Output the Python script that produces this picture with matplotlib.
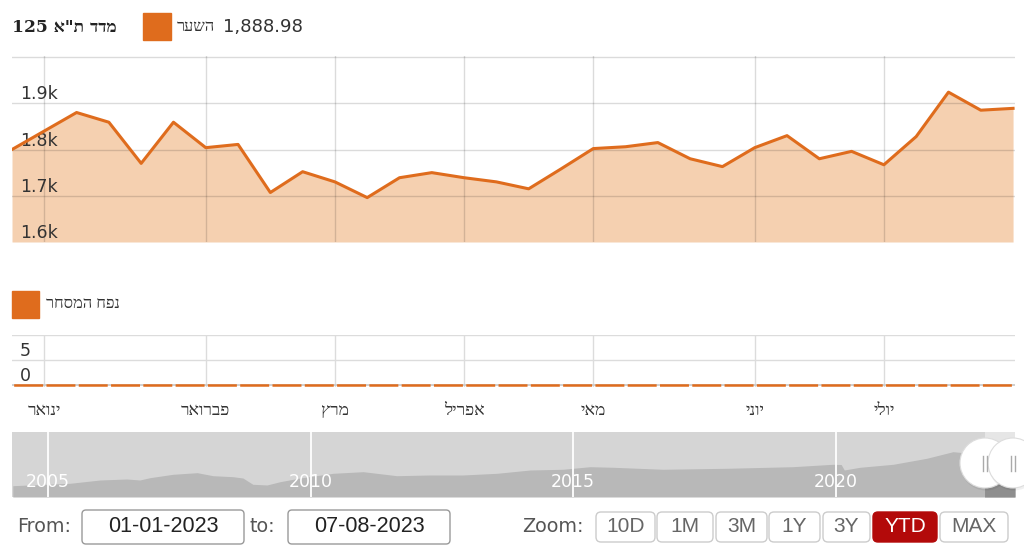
import matplotlib
matplotlib.use("Agg")
import matplotlib.pyplot as plt
import numpy as np
from matplotlib.patches import FancyBboxPatch, Rectangle, Circle

plt.rcParams['lines.scale_dashes'] = False

# ---- data ----
# TA-125 weekly closes, YTD 2023
price = [1800, 1840, 1880, 1859, 1770, 1859, 1804, 1811, 1707, 1752,
         1730, 1696, 1739, 1750, 1739, 1730, 1715, 1758, 1802, 1806,
         1815, 1780, 1763, 1804, 1830, 1780, 1796, 1767, 1828, 1924,
         1885, 1889]
volume = [0, 0, 0, 0, 0, 0, 0, 0, 0, 0, 0, 0, 0, 0, 0, 0,
          0, 0, 0, 0, 0, 0, 0, 0, 0, 0, 0, 0, 0, 0, 0, 0]
month_pos = [1, 6, 10, 14, 18, 23, 27]
month_names = ["ינואר", "פברואר", "מרץ", "אפריל", "מאי", "יוני", "יולי"]
price_ticks = [1600, 1700, 1800, 1900]
price_tick_labels = ["1.6k", "1.7k", "1.8k", "1.9k"]
vol_ticks = [0, 5]

# navigator (full history)
nav_years = [2004.33, 2005.42, 2005.99, 2006.50, 2006.75, 2006.94, 2007.38, 2007.84,
             2008.14, 2008.52, 2008.71, 2008.90, 2009.17, 2009.42, 2009.80, 2010.43,
             2011.00, 2011.64, 2012.27, 2012.90, 2013.55, 2014.18, 2014.80, 2015.32,
             2015.76, 2016.71, 2017.93, 2019.18, 2019.94, 2020.10, 2020.16, 2020.46,
             2021.09, 2021.73, 2022.23, 2022.55, 2022.83, 2023.41]
nav_level = [572, 666, 795, 834, 795, 885, 1018, 1081,
             963, 924, 873, 627, 600, 729, 873, 1057,
             1120, 963, 991, 991, 1057, 1186, 1214, 1315,
             1292, 1214, 1253, 1315, 1409, 1400, 1186, 1292,
             1409, 1644, 1902, 1839, 1870, 1902]
nav_year_ticks = [2005, 2010, 2015, 2020]
sel_start = 2022.83

index_name = 'מדד ת"א 125'
price_label = "השער"
last_close = "1,888.98"
volume_label = "נפח המסחר"
date_from = "01-01-2023"
date_to = "07-08-2023"
zoom_buttons = ["10D", "1M", "3M", "1Y", "3Y", "YTD", "MAX"]
active_button = "YTD"

ORANGE = "#df6c1d"
FILL = "#f5d0b0"
HE_SERIF = ["Liberation Serif", "DejaVu Serif"]


def vis(s):
    # matplotlib has no bidi: hand it the Hebrew in visual order
    return s[::-1]


W, H = 1024, 548
fig = plt.figure(figsize=(W / 100, H / 100), dpi=100)


def px_axes(x0, y0, x1, y1, **kw):
    return fig.add_axes([x0 / W, 1 - y1 / H, (x1 - x0) / W, (y1 - y0) / H], **kw)


def clean(ax):
    for s in ax.spines.values():
        s.set_visible(False)
    ax.tick_params(length=0, labelbottom=False, labelleft=False)


x = np.arange(len(price))
xmax = len(price) - 1 + 0.06

# ---- price panel ----
ax = px_axes(12, 56, 1015, 242)
ax.fill_between(x, price, 1600, color=FILL, lw=0, zorder=1)
ax.plot(x, price, color=ORANGE, lw=2.2, zorder=3, solid_joinstyle='round')
ax.set_xlim(0, xmax)
ax.set_ylim(1600, 2002.2)
ax.set_xticks(month_pos)
ax.set_yticks([1700, 1800, 1900, 2000])
ax.set_axisbelow(False)
ax.grid(color='black', alpha=0.14, lw=1)
clean(ax)
for v, s in zip(price_ticks, price_tick_labels):
    ax.text(0.008, v, s, transform=ax.get_yaxis_transform(), ha='left', va='bottom',
            fontsize=12.5, color='#333333', zorder=2.8)

# ---- volume panel ----
av = px_axes(12, 334.5, 1015, 386.5)
av.set_xlim(0, xmax)
av.set_ylim(-0.3, 10.1)
av.set_xticks(month_pos)
av.set_yticks([5, 10])
av.grid(color='#dcdcdc', lw=1)
clean(av)
av.axhline(0, color='#cccccc', lw=1.3, zorder=2)
av.plot(x, volume, color=ORANGE, lw=1.8, zorder=3, linestyle=(22.05, (20.85, 2.4)))
av.tick_params(axis='x', labelbottom=True, pad=12)
av.set_xticklabels([vis(m) for m in month_names], fontfamily=HE_SERIF, fontsize=12.5, color='#333333')
for v in vol_ticks:
    av.text(0.008, v, str(v), transform=av.get_yaxis_transform(), ha='left', va='bottom',
            fontsize=12.5, color='#333333')

# ---- navigator ----
an = px_axes(12, 432, 1015, 497)
an.set_facecolor('#d5d5d5')
an.set_xlim(2004.315, 2023.41)
an.set_ylim(130, 2672)
ny = np.array(nav_years)
nl = np.array(nav_level)
an.axvspan(sel_start, 2023.41, color='#e6e6e6', lw=0, zorder=0.5)
an.fill_between(ny, nl, 130, color='#b8b8b8', lw=0, zorder=1)
sel = ny >= sel_start
an.fill_between(ny[sel], nl[sel], 130, color='#8e8e8e', lw=0, zorder=1.5)
for yr in nav_year_ticks:
    an.axvline(yr, color='white', lw=1.3, zorder=2)
    an.text(yr, 0.23, str(yr), transform=an.get_xaxis_transform(), ha='center', va='center',
            color='white', fontsize=12.5, zorder=3)
clean(an)

# ---- overlay for legends and controls (pixel units) ----
ov = fig.add_axes([0, 0, 1, 1], zorder=10)
ov.set_xlim(0, W)
ov.set_ylim(H, 0)
ov.axis('off')
ov.patch.set_alpha(0)

ov.text(12, 27, index_name[-3:] + " " + vis(index_name[:-4]), fontfamily=["DejaVu Serif", "Liberation Serif"],
        fontweight='bold', fontsize=12.3, va='center', ha='left', color='#222222')
ov.add_patch(Rectangle((143, 13), 28, 27, color=ORANGE))
ov.text(177, 27, vis(price_label), fontfamily=HE_SERIF, fontsize=11.8, va='center', color='#333333')
ov.text(223, 27, last_close, fontsize=13, va='center', color='#333333')

ov.add_patch(Rectangle((12, 291), 27, 27, color=ORANGE))
ov.text(46, 304, vis(volume_label), fontfamily=HE_SERIF, fontsize=11.8, va='center', color='#333333')

# navigator handles
for cx in (985, 1013):
    ov.add_patch(Circle((cx + 1, 465), 25.5, fc='#000000', alpha=0.06, lw=0))
    ov.add_patch(Circle((cx, 463), 25, fc='white', ec='#dddddd', lw=0.8))
    ov.plot([cx - 2.5, cx - 2.5], [456, 471], color='#aaaaaa', lw=1)
    ov.plot([cx + 2, cx + 2], [456, 471], color='#aaaaaa', lw=1)

# date range inputs
ov.text(17, 527, "From:", fontsize=13.8, color='#555555', va='center')
ov.add_patch(FancyBboxPatch((82, 510), 162, 34, boxstyle='round,pad=0,rounding_size=4',
                            fc='white', ec='#9a9a9a', lw=1))
ov.text(163, 527, date_from, ha='center', va='center', fontfamily='Liberation Sans',
        fontsize=15.5, color='#222222')
ov.text(250, 527, "to:", fontsize=13.8, color='#555555', va='center')
ov.add_patch(FancyBboxPatch((288, 510), 162, 34, boxstyle='round,pad=0,rounding_size=4',
                            fc='white', ec='#9a9a9a', lw=1))
ov.text(369, 527, date_to, ha='center', va='center', fontfamily='Liberation Sans',
        fontsize=15.5, color='#222222')

# zoom buttons
ov.text(522, 527, "Zoom:", fontsize=13.8, color='#555555', va='center')
btn_x = [(596, 655), (657, 713), (716, 767), (769, 820), (823, 870), (873, 937), (940, 1008)]
for (b0, b1), name in zip(btn_x, zoom_buttons):
    on = name == active_button
    ov.add_patch(FancyBboxPatch((b0, 512), b1 - b0, 30, boxstyle='round,pad=0,rounding_size=5',
                                fc='#b30a0a' if on else 'white', ec='#b30a0a' if on else '#cccccc', lw=1))
    ov.text((b0 + b1) / 2, 527, name, ha='center', va='center', fontfamily='Liberation Sans',
            fontsize=15, color='white' if on else '#666666')

fig.savefig("out.png", dpi=100)
